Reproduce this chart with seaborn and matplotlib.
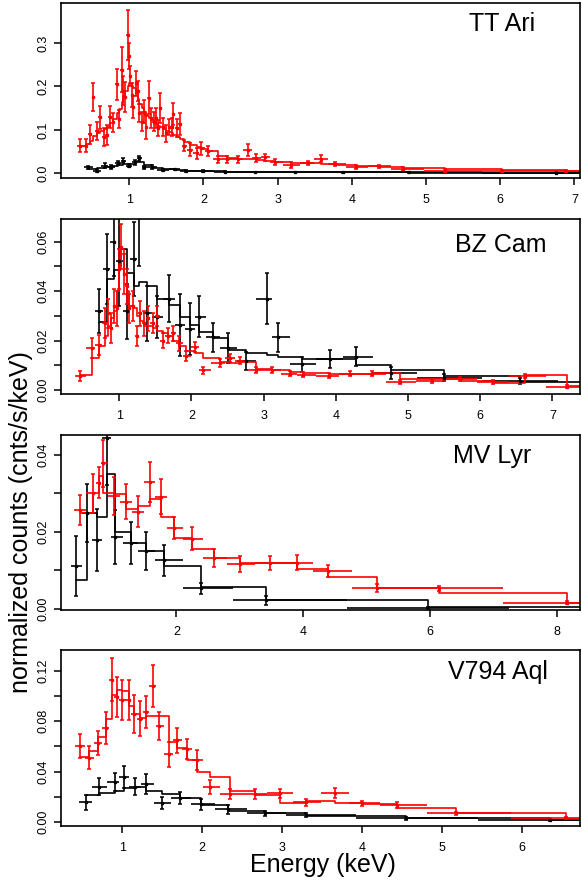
import numpy as np
import matplotlib
matplotlib.use("Agg")
import matplotlib.pyplot as plt
import seaborn as sns

##### X-ray spectra of four CVs, two instruments each (black / red), data + step model

# --- TT Ari ---
tt_red_e = [0.336, 0.417, 0.471, 0.516, 0.561, 0.605, 0.655, 0.695, 0.740, 0.785,
            0.830, 0.865, 0.897, 0.919, 0.946, 0.978, 0.991, 1.009, 1.031, 1.054,
            1.090, 1.112, 1.135, 1.170, 1.197, 1.224, 1.260, 1.291, 1.327, 1.359,
            1.386, 1.413, 1.457, 1.493, 1.538, 1.570, 1.592, 1.637, 1.682, 1.740,
            1.816, 1.906, 1.973, 2.063, 2.197, 2.323, 2.466, 2.601, 2.713, 2.825,
            2.969, 3.184, 3.41, 3.58, 3.77, 4.06, 4.37, 4.69, 5.25, 6.02, 6.89]
tt_red_y = [0.064, 0.064, 0.090, 0.176, 0.097, 0.129, 0.084, 0.088, 0.130, 0.117,
            0.205, 0.125, 0.238, 0.190, 0.176, 0.318, 0.270, 0.224, 0.180, 0.153,
            0.207, 0.190, 0.138, 0.119, 0.142, 0.107, 0.174, 0.127, 0.119, 0.127,
            0.104, 0.150, 0.107, 0.092, 0.107, 0.107, 0.137, 0.104, 0.113, 0.064,
            0.054, 0.046, 0.058, 0.051, 0.032, 0.032, 0.032, 0.054, 0.035, 0.037,
            0.027, 0.019, 0.023, 0.034, 0.021, 0.015, 0.016, 0.011, 0.006, 0.005, 0.0047]
tt_red_err = [0.015, 0.015, 0.022, 0.032, 0.020, 0.026, 0.021, 0.023, 0.025, 0.021,
              0.036, 0.021, 0.052, 0.033, 0.035, 0.058, 0.030, 0.024, 0.027, 0.025,
              0.029, 0.023, 0.021, 0.021, 0.027, 0.027, 0.038, 0.023, 0.021, 0.023,
              0.019, 0.035, 0.021, 0.019, 0.019, 0.021, 0.025, 0.021, 0.025, 0.013,
              0.015, 0.012, 0.015, 0.012, 0.008, 0.008, 0.008, 0.014, 0.009, 0.008,
              0.007, 0.006, 0.005, 0.008, 0.005, 0.004, 0.004, 0.003, 0.003, 0.002, 0.002]
tt_red_mod = [0.064, 0.068, 0.075, 0.085, 0.092, 0.097, 0.102, 0.107, 0.115, 0.125,
              0.138, 0.148, 0.165, 0.178, 0.190, 0.200, 0.207, 0.207, 0.200, 0.196,
              0.185, 0.172, 0.160, 0.150, 0.140, 0.133, 0.127, 0.122, 0.118, 0.113,
              0.109, 0.106, 0.102, 0.098, 0.096, 0.092, 0.088, 0.084, 0.080, 0.073,
              0.066, 0.061, 0.056, 0.052, 0.040, 0.036, 0.034, 0.033, 0.031, 0.029,
              0.026, 0.0237, 0.0237, 0.0223, 0.020, 0.0177, 0.0154, 0.0123, 0.0100, 0.0077, 0.0062]
tt_blk_e = [0.45, 0.56, 0.67, 0.76, 0.85, 0.92, 1.00, 1.08, 1.13, 1.20, 1.30,
            1.45, 1.61, 1.77, 2.00, 2.29, 2.69, 3.23, 3.88, 4.77, 6.75]
tt_blk_y = [0.0138, 0.006, 0.0176, 0.015, 0.023, 0.029, 0.0176, 0.025, 0.0345, 0.0138, 0.015,
            0.0077, 0.009, 0.006, 0.005, 0.004, 0.003, 0.003, 0.002, 0.002, 0.0015]
tt_blk_err = [0.004, 0.004, 0.005, 0.004, 0.005, 0.006, 0.004, 0.005, 0.006, 0.004, 0.004,
              0.002, 0.002, 0.002, 0.0015, 0.0012, 0.001, 0.001, 0.0008, 0.0008, 0.0006]
tt_blk_mod = [0.011, 0.012, 0.014, 0.016, 0.019, 0.021, 0.021, 0.025, 0.027, 0.018, 0.012,
              0.009, 0.008, 0.006, 0.005, 0.004, 0.003, 0.0025, 0.002, 0.0016, 0.0012]

# --- BZ Cam ---
bz_red_e = [0.46, 0.62, 0.72, 0.80, 0.85, 0.89, 0.93, 0.97, 1.00, 1.03,
            1.06, 1.10, 1.14, 1.19, 1.24, 1.29, 1.34, 1.40, 1.46, 1.52,
            1.60, 1.68, 1.75, 1.83, 1.93, 2.05, 2.16, 2.39, 2.53, 2.67,
            2.90, 3.12, 3.36, 3.55, 3.90, 4.20, 4.50, 4.89, 5.33, 5.72,
            6.18, 6.62, 7.20]
bz_red_y = [0.0059, 0.017, 0.0183, 0.027, 0.031, 0.025, 0.034, 0.033, 0.049, 0.058,
            0.047, 0.042, 0.033, 0.034, 0.022, 0.031, 0.027, 0.029, 0.027, 0.030,
            0.020, 0.022, 0.023, 0.019, 0.014, 0.0176, 0.008, 0.011, 0.013, 0.012,
            0.0082, 0.008, 0.0066, 0.0062, 0.0059, 0.0066, 0.0066, 0.0034, 0.0036, 0.0047,
            0.0035, 0.0059, 0.0015]
bz_red_err = [0.002, 0.004, 0.004, 0.006, 0.006, 0.006, 0.007, 0.007, 0.008, 0.009,
              0.008, 0.007, 0.006, 0.006, 0.004, 0.005, 0.005, 0.005, 0.004, 0.004,
              0.003, 0.003, 0.003, 0.003, 0.002, 0.002, 0.0015, 0.0015, 0.0015, 0.0015,
              0.0012, 0.0012, 0.001, 0.001, 0.001, 0.001, 0.001, 0.0008, 0.0008, 0.0008,
              0.0008, 0.0008, 0.0005]
bz_red_mod = [0.006, 0.013, 0.018, 0.022, 0.026, 0.029, 0.032, 0.040, 0.050, 0.057,
              0.047, 0.040, 0.034, 0.033, 0.030, 0.028, 0.026, 0.026, 0.025, 0.024,
              0.023, 0.022, 0.020, 0.018, 0.016, 0.015, 0.013, 0.0116, 0.0112, 0.0116,
              0.0085, 0.0080, 0.0075, 0.0070, 0.0066, 0.0066, 0.0069, 0.0045, 0.0045, 0.0039,
              0.0028, 0.0062, 0.0018]
bz_blk_e = [0.72, 0.83, 0.92, 1.00, 1.10, 1.21, 1.27, 1.38, 1.52, 1.69, 1.84, 1.98,
            2.11, 2.30, 2.50, 2.76, 3.04, 3.20, 3.53, 3.92, 4.28, 4.76, 5.50, 6.55]
bz_blk_y = [0.032, 0.049, 0.060, 0.052, 0.0318, 0.053, 0.075, 0.031, 0.0295, 0.037, 0.0264, 0.0248,
            0.0297, 0.0213, 0.017, 0.0118, 0.037, 0.0213, 0.0105, 0.0126, 0.0136, 0.007, 0.0051, 0.0036]
bz_blk_err = [0.009, 0.014, 0.014, 0.018, 0.011, 0.015, 0.025, 0.011, 0.0085, 0.0095, 0.0125, 0.0105,
              0.0082, 0.006, 0.006, 0.0038, 0.0104, 0.0057, 0.003, 0.0037, 0.004, 0.0025, 0.0015, 0.0012]
bz_blk_mod = [0.0277, 0.045, 0.0486, 0.057, 0.0475, 0.042, 0.0435, 0.042, 0.037, 0.0345, 0.0297, 0.0264,
              0.0237, 0.021, 0.0163, 0.0149, 0.0143, 0.0136, 0.0125, 0.0128, 0.0102, 0.0082, 0.0058, 0.0035]

# --- MV Lyr ---
mv_red_e = [0.48, 0.68, 0.78, 0.85, 1.01, 1.20, 1.39, 1.58, 1.76, 1.96,
            2.24, 2.60, 3.01, 3.47, 3.91, 4.39, 5.16, 6.15, 8.16]
mv_red_y = [0.0257, 0.030, 0.0328, 0.0378, 0.0293, 0.0279, 0.0253, 0.0331, 0.0292, 0.0211,
            0.0182, 0.0133, 0.0117, 0.0120, 0.0120, 0.0099, 0.0054, 0.0054, 0.0016]
mv_red_err = [0.004, 0.005, 0.004, 0.006, 0.005, 0.0045, 0.004, 0.0052, 0.0045, 0.0028,
              0.003, 0.0024, 0.002, 0.0018, 0.0019, 0.0016, 0.001, 0.0006, 0.0004]
mv_red_mod = [0.025, 0.030, 0.0345, 0.030, 0.0299, 0.026, 0.0268, 0.0286, 0.0238, 0.0184,
              0.0155, 0.0132, 0.0119, 0.0120, 0.0103, 0.0082, 0.0054, 0.0042, 0.0016]
mv_blk_e = [0.42, 0.59, 0.75, 0.90, 1.04, 1.28, 1.52, 1.81, 2.39, 3.41, 5.97]
mv_blk_y = [0.0112, 0.0249, 0.0179, 0.0443, 0.0188, 0.0172, 0.0151, 0.0127, 0.0054, 0.0023, 0.0002]
mv_blk_err = [0.0077, 0.0075, 0.0081, 0.012, 0.007, 0.0055, 0.005, 0.004, 0.0014, 0.0012, 0.0003]
mv_blk_mod = [0.0075, 0.0249, 0.024, 0.035, 0.020, 0.0172, 0.015, 0.0112, 0.0058, 0.0023, 0.0004]

# --- V794 Aql ---
va_red_e = [0.47, 0.59, 0.70, 0.80, 0.87, 0.93, 1.00, 1.08, 1.15, 1.22,
            1.30, 1.38, 1.46, 1.58, 1.69, 1.81, 1.93, 2.10, 2.35, 2.66,
            2.97, 3.30, 3.66, 4.00, 4.44, 5.17, 6.55]
va_red_y = [0.0602, 0.051, 0.0629, 0.0748, 0.1133, 0.0995, 0.0968, 0.0968, 0.0857, 0.0822,
            0.0875, 0.1082, 0.0764, 0.0536, 0.065, 0.0576, 0.049, 0.0279, 0.022, 0.022,
            0.0225, 0.0154, 0.0231, 0.0146, 0.0133, 0.0067, 0.0027]
va_red_err = [0.0097, 0.0093, 0.0095, 0.0126, 0.0172, 0.016, 0.016, 0.016, 0.0153, 0.0137,
              0.0126, 0.0169, 0.0113, 0.0097, 0.010, 0.008, 0.008, 0.0056, 0.004, 0.0037,
              0.0036, 0.0028, 0.0039, 0.0022, 0.0022, 0.0012, 0.0008]
va_red_mod = [0.0512, 0.0562, 0.0676, 0.0817, 0.1008, 0.1048, 0.104, 0.092, 0.0857, 0.083,
              0.084, 0.084, 0.084, 0.0637, 0.0584, 0.049, 0.0398, 0.0358, 0.0247, 0.0212,
              0.015, 0.0167, 0.0146, 0.0138, 0.0106, 0.0072, 0.0022]
va_blk_e = [0.545, 0.71, 0.91, 1.02, 1.16, 1.30, 1.50, 1.72, 1.99, 2.32, 2.79, 3.30, 4.55, 6.35]
va_blk_y = [0.0154, 0.0279, 0.0318, 0.0358, 0.0279, 0.0297, 0.0151, 0.0188, 0.0138, 0.0098,
            0.0066, 0.0055, 0.0027, 0.0014]
va_blk_err = [0.006, 0.0066, 0.0072, 0.0088, 0.007, 0.008, 0.0046, 0.0046, 0.0042, 0.0033,
              0.002, 0.0015, 0.001, 0.0006]
va_blk_mod = [0.021, 0.023, 0.0247, 0.0265, 0.0279, 0.0247, 0.022, 0.0186, 0.0133, 0.0088,
              0.0066, 0.0045, 0.0027, 0.0014]

names = ["TT Ari", "BZ Cam", "MV Lyr", "V794 Aql"]

sns.set_style("ticks")
plt.rcParams["font.family"] = ["Liberation Sans", "DejaVu Sans"]
plt.rcParams["text.color"] = "black"
plt.rcParams["xtick.color"] = "black"
plt.rcParams["ytick.color"] = "black"

panels = [
    dict(name=names[0], black=(tt_blk_e, tt_blk_y, tt_blk_err, tt_blk_mod),
         red=(tt_red_e, tt_red_y, tt_red_err, tt_red_mod),
         xlim=(0.0795, 7.081), ylim=(-0.0108, 0.392),
         xticks=[1, 2, 3, 4, 5, 6, 7], yticks=[0.0, 0.1, 0.2, 0.3],
         ylabels=["0.0", "0.1", "0.2", "0.3"],
         box=(0.1048, 0.79773, 0.8926, 0.19886), title_pos=(0.912, 0.842)),
    dict(name=names[1], black=(bz_blk_e, bz_blk_y, bz_blk_err, bz_blk_mod),
         red=(bz_red_e, bz_red_y, bz_red_err, bz_red_mod),
         xlim=(0.1925, 7.388), ylim=(-0.0015, 0.0691),
         xticks=[1, 2, 3, 4, 5, 6, 7], yticks=[0.0, 0.01, 0.02, 0.03, 0.04, 0.05, 0.06],
         ylabels=["0.00", "", "0.02", "", "0.04", "", "0.06"],
         box=(0.1048, 0.55227, 0.8926, 0.19886), title_pos=(0.935, 0.813)),
    dict(name=names[2], black=(mv_blk_e, mv_blk_y, mv_blk_err, mv_blk_mod),
         red=(mv_red_e, mv_red_y, mv_red_err, mv_red_mod),
         xlim=(0.181, 8.375), ylim=(-0.00026, 0.04527),
         xticks=[2, 4, 6, 8], yticks=[0.0, 0.01, 0.02, 0.03, 0.04],
         ylabels=["0.00", "", "0.02", "", "0.04"],
         box=(0.1048, 0.30682, 0.8926, 0.1992), title_pos=(0.906, 0.840)),
    dict(name=names[3], black=(va_blk_e, va_blk_y, va_blk_err, va_blk_mod),
         red=(va_red_e, va_red_y, va_red_err, va_red_mod),
         xlim=(0.234, 6.728), ylim=(-0.0034, 0.1368),
         xticks=[1, 2, 3, 4, 5, 6], yticks=[0.0, 0.02, 0.04, 0.06, 0.08, 0.10, 0.12],
         ylabels=["0.00", "", "0.04", "", "0.08", "", "0.12"],
         box=(0.1048, 0.06136, 0.8926, 0.2), title_pos=(0.937, 0.834)),
]


def half_widths(e):
    ## bins edges taken half way between neighbouring channel centres
    e = np.asarray(e, dtype=float)
    mids = (e[1:] + e[:-1]) / 2
    lo = np.r_[e[0] - (mids[0] - e[0]), mids]
    hi = np.r_[mids, e[-1] + (e[-1] - mids[-1])]
    return e - lo, hi - e


def draw_group(ax, group, color):
    e, y, err, mod = [np.asarray(a, dtype=float) for a in group]
    xlo, xhi = half_widths(e)
    # model drawn as steps changing at the channel centres
    sns.lineplot(x=np.r_[e, e[-1] + xhi[-1] * 3], y=np.r_[mod, mod[-1]], ax=ax,
                 drawstyle="steps-post", color=color, lw=1.2, estimator=None,
                 sort=False, legend=False)
    ax.errorbar(e, y, xerr=[xlo, xhi], fmt="none", ecolor=color, elinewidth=1.2, capsize=0)
    ax.errorbar(e, y, yerr=err, fmt="s", ms=1.4, color=color, ecolor=color,
                elinewidth=1.2, capsize=1.5, capthick=1.1)


fig = plt.figure(figsize=(5.82, 8.8), dpi=100)
for p in panels:
    ax = fig.add_axes(p["box"])
    draw_group(ax, p["black"], "black")
    draw_group(ax, p["red"], "#ff0000")
    ax.set_xlim(*p["xlim"])
    ax.set_ylim(*p["ylim"])
    ax.set_xticks(p["xticks"])
    ax.set_xticklabels([str(t) for t in p["xticks"]])
    ax.set_yticks(p["yticks"])
    ax.set_yticklabels(p["ylabels"], rotation=90, va="center")
    ax.set_xlabel("")
    ax.set_ylabel("")
    for s in ax.spines.values():
        s.set_visible(True)
        s.set_linewidth(1.2)
        s.set_color("black")
    ax.tick_params(direction="out", length=4.8, width=1.1, labelsize=9, colors="black",
                   top=False, right=False)
    ax.tick_params(axis="x", pad=6.5)
    ax.tick_params(axis="y", pad=3.5)
    ax.text(p["title_pos"][0], p["title_pos"][1], p["name"], transform=ax.transAxes,
            ha="right", va="baseline", fontsize=18, color="black")

fig.text(0.555, 0.009, "Energy (keV)", ha="center", va="baseline", fontsize=18, color="black")
fig.text(0.036, 0.4068, "normalized counts (cnts/s/keV)", rotation=90,
         ha="center", va="center", fontsize=18, color="black")

fig.savefig("out.png", dpi=100)
